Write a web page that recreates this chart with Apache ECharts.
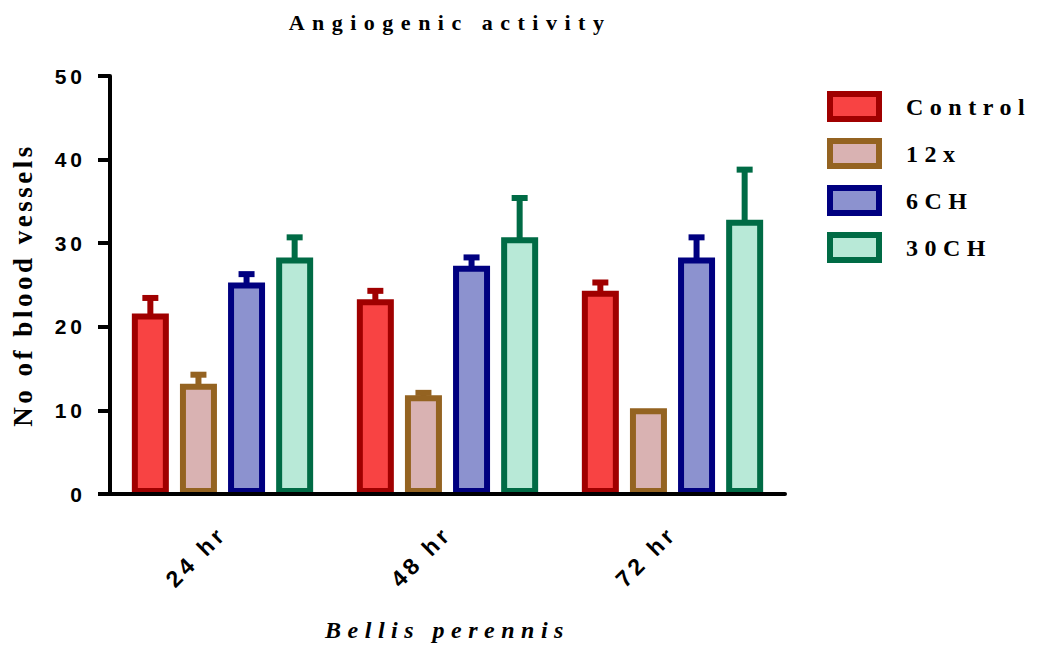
<!DOCTYPE html>
<html>
<head>
<meta charset="utf-8">
<script src="https://cdn.jsdelivr.net/npm/echarts@6/dist/echarts.min.js"></script>
<style>
  html, body { margin: 0; padding: 0; background: #fff; }
  #chart { width: 1046px; height: 650px; }
  #chart text[style*="Liberation Sans"] { letter-spacing: 4px; }
  #chart text[style*="22px"] { letter-spacing: 7.5px; }
  #chart text[style*="24px"] { letter-spacing: 6.5px; }
  #chart text[style*="italic"] { letter-spacing: 6.5px; }
  #chart text[style*="27px"] { letter-spacing: 3.5px; }
</style>
</head>
<body>
<div id="chart"></div>
<script>
// ---- data ----
const categories = ['24 hr', '48 hr', '72 hr'];
const seriesNames = ['Control', '12x', '6CH', '30CH'];
const controlMean = [21.6, 23.3, 24.3];
const controlErr  = [1.85, 1.0, 1.0];
const x12Mean     = [13.2, 11.8, 10.25];
const x12Err      = [1.07, 0.3, 0.0];
const ch6Mean     = [25.3, 27.3, 28.3];
const ch6Err      = [1.0, 1.0, 2.4];
const ch30Mean    = [28.3, 30.7, 32.8];
const ch30Err     = [2.4, 4.7, 6.0];
const yTicks      = [0, 10, 20, 30, 40, 50];

// ---- styles ----
const fills   = ['#F84343', '#D9B2B2', '#8C92CF', '#B8E9D7'];
const borders = ['#A00000', '#946321', '#000080', '#006B45'];
const BAR_W = 37;
const BAR_GAP = 0.3;
const BORDER = 6;

const means = [controlMean, x12Mean, ch6Mean, ch30Mean];
const errs  = [controlErr, x12Err, ch6Err, ch30Err];

const serif = 'Liberation Serif';
const sans = 'Liberation Sans';

const chart = echarts.init(document.getElementById('chart'), null, { renderer: 'svg' });

const series = [];
seriesNames.forEach((name, k) => {
  series.push({
    name: name,
    type: 'bar',
    z: 3,
    barWidth: BAR_W,
    barGap: (BAR_GAP * 100) + '%',
    itemStyle: { color: fills[k], borderColor: borders[k], borderWidth: BORDER },
    data: means[k]
  });
});
seriesNames.forEach((name, k) => {
  const step = BAR_W * (1 + BAR_GAP);
  const offset = (k - (seriesNames.length - 1) / 2) * step;
  series.push({
    name: name + ' err',
    type: 'custom',
    z: 2,
    encode: { x: 0, y: 1 },
    data: categories.map((c, i) => [i, means[k][i], errs[k][i]]),
    renderItem: function (params, api) {
      const ci = api.value(0), m = api.value(1), e = api.value(2);
      if (!(e > 0)) return null;
      const base = api.coord([ci, m]);
      const top = api.coord([ci, m + e]);
      const x = base[0] + offset;
      return {
        type: 'group',
        children: [
          { type: 'rect', shape: { x: x - 3, y: top[1], width: 6, height: base[1] - top[1] + 3 },
            style: { fill: borders[k] } },
          { type: 'rect', shape: { x: x - 8, y: top[1] - 3, width: 16, height: 6 },
            style: { fill: borders[k] } }
        ]
      };
    }
  });
});

const option = {
  animation: false,
  backgroundColor: '#ffffff',
  title: {
    text: 'Angiogenic activity',
    left: 445,
    textAlign: 'center',
    top: 6,
    textStyle: { fontFamily: serif, fontWeight: 'bold', fontSize: 22, color: '#000' }
  },
  legend: {
    left: 822,
    top: 86,
    orient: 'vertical',
    itemWidth: 49,
    itemHeight: 25,
    itemGap: 16,
    data: seriesNames.map((n, k) => ({
      name: n,
      icon: 'rect',
      itemStyle: { color: fills[k], borderColor: borders[k], borderWidth: BORDER }
    })),
    textStyle: { fontFamily: serif, fontWeight: 'bold', fontSize: 24, color: '#000',
                 lineHeight: 22, padding: [0, 0, 0, 22] }
  },
  grid: { left: 110, right: 261, top: 76, bottom: 156 },
  xAxis: {
    type: 'category',
    data: categories,
    z: 5,
    name: 'Bellis perennis',
    nameLocation: 'middle',
    nameGap: 124,
    nameTextStyle: { fontFamily: serif, fontWeight: 'bold', fontStyle: 'italic', fontSize: 24, color: '#000' },
    axisLine: { lineStyle: { color: '#000', width: 4 } },
    axisTick: { alignWithLabel: true, length: 10, lineStyle: { color: '#000', width: 4 } },
    axisLabel: { rotate: 45, margin: 36, fontFamily: sans, fontWeight: 'bold', fontSize: 23, color: '#000' }
  },
  yAxis: {
    type: 'value',
    min: yTicks[0],
    max: yTicks[yTicks.length - 1],
    interval: yTicks[1] - yTicks[0],
    z: 5,
    name: 'No of blood vessels',
    nameLocation: 'middle',
    nameGap: 74,
    nameTextStyle: { fontFamily: serif, fontWeight: 'bold', fontSize: 27, color: '#000' },
    axisLine: { show: true, lineStyle: { color: '#000', width: 4 } },
    axisTick: { show: true, length: 12, lineStyle: { color: '#000', width: 4 } },
    splitLine: { show: false },
    axisLabel: { margin: 24, fontFamily: sans, fontWeight: 'bold', fontSize: 21, color: '#000' }
  },
  series: series
};
chart.setOption(option);
</script>
</body>
</html>
